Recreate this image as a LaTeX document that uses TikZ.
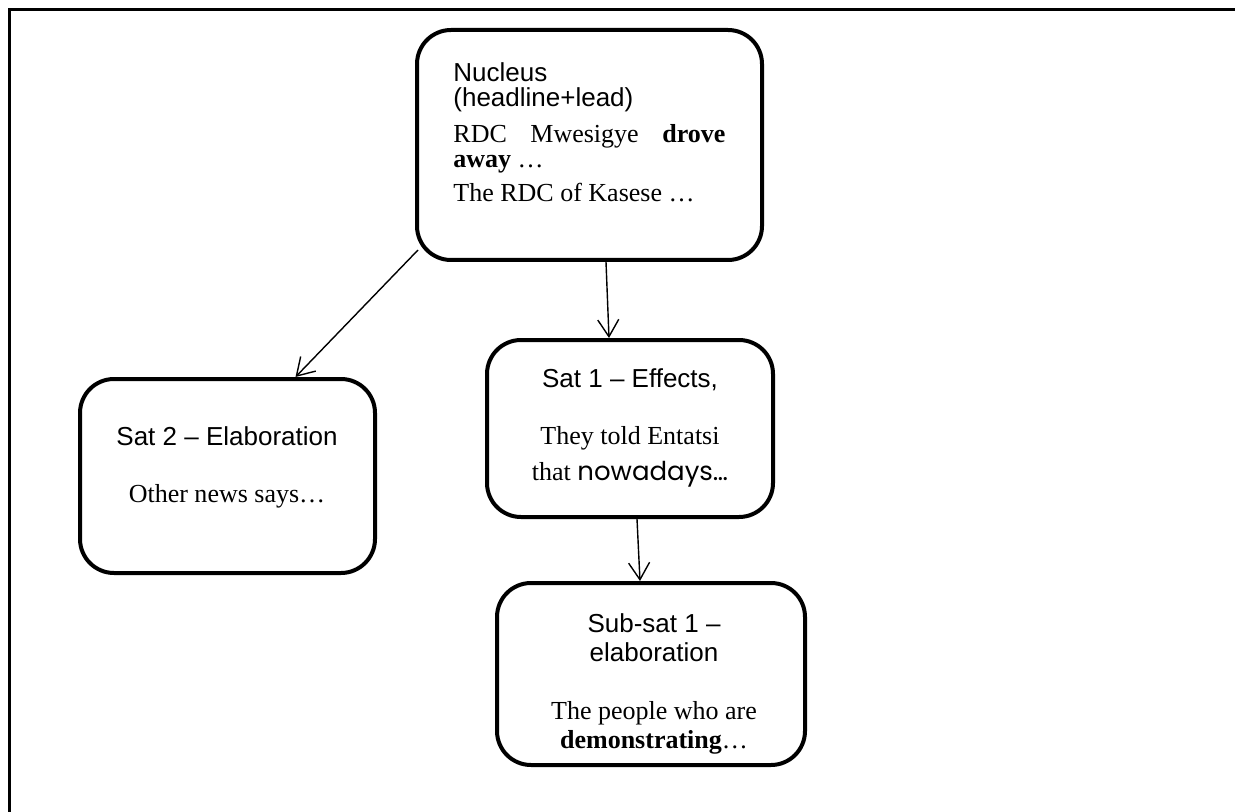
\documentclass[tikz,border=0pt]{standalone}
\usepackage{fontspec}
\setmainfont{Liberation Serif}
\setsansfont{Liberation Sans}
\newfontfamily\handfont{Poppins}
\usetikzlibrary{arrows.meta,calc}

\begin{document}
\begin{tikzpicture}[x=0.5pt,y=-0.5pt,
  box/.style={draw, line width=2pt, rounded corners=17pt, inner sep=0pt},
  link/.style={line width=0.7pt, -{Straight Barb[length=8.5pt,width=10.5pt,line width=0.7pt]}},
  head/.style={font=\sffamily\fontsize{13}{15}\selectfont, inner sep=0pt},
  body/.style={font=\rmfamily\fontsize{13}{15}\selectfont, inner sep=0pt},
]
\useasboundingbox (0,0) rectangle (1235,812);

% cell border
\draw[line width=1.5pt] (1235,10) -- (9,10) -- (9,812);

% boxes
\node[box, minimum width=172.5pt, minimum height=115pt] (nuc) at (589.5,145) {};
\node[box, minimum width=143pt, minimum height=88.5pt] (s1) at (630,428.5) {};
\node[box, minimum width=147.5pt, minimum height=97pt] (s2) at (227.5,476) {};
\node[box, minimum width=154pt, minimum height=91pt] (sub) at (651,674) {};

% nucleus text
\node[head, anchor=base west] (nucA) at (453,82) {Nucleus};
\node[head, anchor=base west] (nucB) at (453,107) {(headline+lead)};
\node[body, anchor=base west] (nucC) at (453,143) {\makebox[136pt][s]{RDC Mwesigye \textbf{drove}}};
\node[body, anchor=base west] (nucD) at (453,168) {\textbf{away} …};
\node[body, anchor=base west] (nucE) at (453,202) {The RDC of Kasese …};

% satellite 1 text
\node[head, anchor=base] (s1A) at (630,387) {Sat 1 – Effects,};
\node[body, anchor=base] (s1B) at (630,444) {They told Entatsi};
\node[body, anchor=base] (s1C) at (630,480) {that {\handfont nowadays…}};

% satellite 2 text
\node[head, anchor=base] (s2A) at (227,445) {Sat 2 – Elaboration};
\node[body, anchor=base] (s2B) at (227,502) {Other news says…};

% sub-satellite text
\node[head, anchor=base] (subA) at (654,632) {Sub-sat 1 –};
\node[head, anchor=base] (subB) at (654,661) {elaboration};
\node[body, anchor=base] (subC) at (654,719) {The people who are};
\node[body, anchor=base] (subD) at (654,748) {\textbf{demonstrating}…};

% relations
\draw[link] ($(nuc.south west)+(3,-12)$) -- ($(s2.north)+(68,0)$);
\draw[link] ($(nuc.south)+(16.5,0)$) -- ($(s1.north)+(-21,0)$);
\draw[link] ($(s1.south)+(7,0)$) -- ($(sub.north)+(-11,0)$);
\end{tikzpicture}
\end{document}
